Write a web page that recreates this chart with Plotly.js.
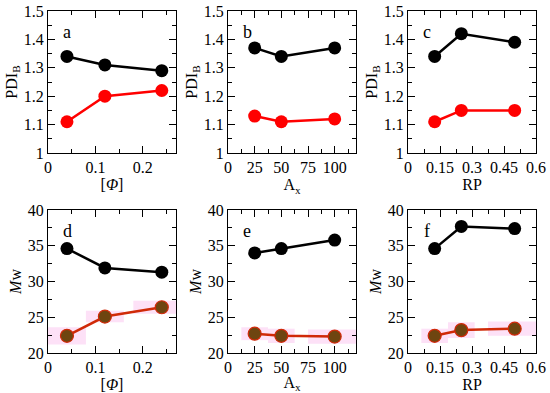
<!DOCTYPE html>
<html>
<head>
<meta charset="utf-8">
<script src="https://cdn.plot.ly/plotly-3.0.1.min.js"></script>
<style>
html,body{margin:0;padding:0;background:#fff}
#chart{width:550px;height:393px}
</style>
</head>
<body>
<div id="chart"></div>
<script>
// ---- data ----
const phiX = [0.04, 0.12, 0.24];
const axX = [25, 50, 100];
const rpX = [0.125, 0.25, 0.5];

const pdiPhiBlack = [1.34, 1.31, 1.29];
const pdiPhiRed = [1.11, 1.20, 1.22];
const pdiAxBlack = [1.37, 1.34, 1.37];
const pdiAxRed = [1.13, 1.11, 1.12];
const pdiRpBlack = [1.34, 1.42, 1.39];
const pdiRpRed = [1.11, 1.15, 1.15];

const mwPhiBlack = [34.6, 31.9, 31.3];
const mwPhiBrown = [22.4, 25.1, 26.4];
const mwAxBlack = [34.0, 34.6, 35.8];
const mwAxBrown = [22.7, 22.4, 22.3];
const mwRpBlack = [34.6, 37.7, 37.4];
const mwRpBrown = [22.4, 23.2, 23.4];

const mwPhiSpread = [1.2, 0.8, 0.9];
const mwAxSpread = [0.9, 1.0, 1.0];
const mwRpSpread = [1.0, 1.1, 1.0];

const panelLetters = ['a', 'b', 'c', 'd', 'e', 'f'];

// ---- styling ----
const FONT = 'Liberation Serif';
const BLACK = '#000000';
const RED = '#ff0000';
const DARKRED = '#d02a08';
const BROWN = '#6e4510';
const PINK = 'rgba(245,120,220,0.22)';

function lineTrace(x, y, color, ax, ay, fill, edge) {
  return {
    x: x, y: y, xaxis: ax, yaxis: ay, type: 'scatter', mode: 'lines+markers',
    line: {color: color, width: 2.5},
    marker: {size: 13, color: fill || color, line: {color: edge || color, width: edge ? 1.2 : 0}},
    hoverinfo: 'skip', showlegend: false, cliponaxis: false
  };
}

function bandTraces(x, y, spread, ax, ay) {
  const out = [];
  for (let i = 0; i < x.length; i++) {
    const gaps = [];
    if (i > 0) gaps.push(x[i] - x[i - 1]);
    if (i < x.length - 1) gaps.push(x[i + 1] - x[i]);
    const w = Math.min.apply(null, gaps) / 2;
    const x0 = x[i] - w, x1 = x[i] + w;
    const y0 = y[i] - spread[i], y1 = y[i] + spread[i];
    out.push({
      x: [x0, x1, x1, x0, x0], y: [y0, y0, y1, y1, y0], xaxis: ax, yaxis: ay,
      type: 'scatter', mode: 'lines', fill: 'toself', fillcolor: PINK,
      line: {width: 0, color: 'rgba(0,0,0,0)'}, hoverinfo: 'skip', showlegend: false
    });
  }
  return out;
}

const traces = [];
traces.push(lineTrace(phiX, pdiPhiBlack, BLACK, 'x', 'y'));
traces.push(lineTrace(phiX, pdiPhiRed, RED, 'x', 'y'));
traces.push(lineTrace(axX, pdiAxBlack, BLACK, 'x2', 'y2'));
traces.push(lineTrace(axX, pdiAxRed, RED, 'x2', 'y2'));
traces.push(lineTrace(rpX, pdiRpBlack, BLACK, 'x3', 'y3'));
traces.push(lineTrace(rpX, pdiRpRed, RED, 'x3', 'y3'));

traces.push.apply(traces, bandTraces(phiX, mwPhiBrown, mwPhiSpread, 'x4', 'y4'));
traces.push.apply(traces, bandTraces(axX, mwAxBrown, mwAxSpread, 'x5', 'y5'));
traces.push.apply(traces, bandTraces(rpX, mwRpBrown, mwRpSpread, 'x6', 'y6'));

traces.push(lineTrace(phiX, mwPhiBlack, BLACK, 'x4', 'y4'));
traces.push(lineTrace(phiX, mwPhiBrown, DARKRED, 'x4', 'y4', BROWN, DARKRED));
traces.push(lineTrace(axX, mwAxBlack, BLACK, 'x5', 'y5'));
traces.push(lineTrace(axX, mwAxBrown, DARKRED, 'x5', 'y5', BROWN, DARKRED));
traces.push(lineTrace(rpX, mwRpBlack, BLACK, 'x6', 'y6'));
traces.push(lineTrace(rpX, mwRpBrown, DARKRED, 'x6', 'y6', BROWN, DARKRED));

const W = 550, H = 393;
const colPx = [[48, 176], [228, 356], [408, 536]];
const rowPx = [[11, 153], [210, 353]];

function xAxis(col, range, dtick, minorDtick, title, anchor, tickvals, ticktext) {
  const a = {
    domain: [colPx[col][0] / W, colPx[col][1] / W], range: range, anchor: anchor,
    showgrid: false, zeroline: false, showline: true, linecolor: BLACK, linewidth: 1, mirror: 'ticks',
    ticks: 'inside', ticklen: 7, tickwidth: 1, tickcolor: BLACK,
    tickfont: {family: FONT, size: 16, color: BLACK},
    minor: {dtick: minorDtick, ticks: 'inside', ticklen: 4, tickwidth: 1, tickcolor: BLACK, showgrid: false},
    title: {text: title, font: {family: FONT, size: 16, color: BLACK}, standoff: 2},
    fixedrange: true
  };
  if (tickvals) { a.tickmode = 'array'; a.tickvals = tickvals; a.ticktext = ticktext; }
  else { a.tick0 = 0; a.dtick = dtick; }
  return a;
}
function yAxis(row, range, dtick, minorDtick, title, anchor, tickvals, ticktext) {
  const a = {
    domain: [1 - rowPx[row][1] / H, 1 - rowPx[row][0] / H], range: range, anchor: anchor,
    showgrid: false, zeroline: false, showline: true, linecolor: BLACK, linewidth: 1, mirror: 'ticks',
    ticks: 'inside', ticklen: 7, tickwidth: 1, tickcolor: BLACK,
    tickfont: {family: FONT, size: 16, color: BLACK},
    minor: {dtick: minorDtick, ticks: 'inside', ticklen: 4, tickwidth: 1, tickcolor: BLACK, showgrid: false},
    title: {text: title, font: {family: FONT, size: 16, color: BLACK}, standoff: 2},
    fixedrange: true
  };
  if (tickvals) { a.tickmode = 'array'; a.tickvals = tickvals; a.ticktext = ticktext; }
  else { a.tick0 = 0; a.dtick = dtick; }
  return a;
}

const pdiTickVals = [1, 1.1, 1.2, 1.3, 1.4, 1.5];
const pdiTickText = ['1', '1.1', '1.2', '1.3', '1.4', '1.5'];
const phiTickVals = [0, 0.1, 0.2];
const phiTickText = ['0', '0.1', '0.2'];
const rpTickVals = [0, 0.15, 0.3, 0.45, 0.6];
const rpTickText = ['0', '0.15', '0.3', '0.45', '0.6'];

const phiTitle = '[<i>Φ</i>]';
const axTitle = 'A<sub>x</sub>';
const rpTitle = 'RP';
const pdiTitle = 'PDI<sub>B</sub>';
const mwTitle = '<i>M</i>w';

const layout = {
  width: W, height: H, margin: {l: 0, r: 0, t: 0, b: 0},
  paper_bgcolor: '#ffffff', plot_bgcolor: '#ffffff', showlegend: false,
  font: {family: FONT, color: BLACK},
  xaxis: xAxis(0, [0, 0.27], null, 0.05, phiTitle, 'y', phiTickVals, phiTickText),
  yaxis: yAxis(0, [1, 1.5], null, 0.05, pdiTitle, 'x', pdiTickVals, pdiTickText),
  xaxis2: xAxis(1, [0, 120], 25, 12.5, axTitle, 'y2'),
  yaxis2: yAxis(0, [1, 1.5], null, 0.05, pdiTitle, 'x2', pdiTickVals, pdiTickText),
  xaxis3: xAxis(2, [0, 0.6], null, 0.075, rpTitle, 'y3', rpTickVals, rpTickText),
  yaxis3: yAxis(0, [1, 1.5], null, 0.05, pdiTitle, 'x3', pdiTickVals, pdiTickText),
  xaxis4: xAxis(0, [0, 0.27], null, 0.05, phiTitle, 'y4', phiTickVals, phiTickText),
  yaxis4: yAxis(1, [20, 40], 5, 2.5, mwTitle, 'x4'),
  xaxis5: xAxis(1, [0, 120], 25, 12.5, axTitle, 'y5'),
  yaxis5: yAxis(1, [20, 40], 5, 2.5, mwTitle, 'x5'),
  xaxis6: xAxis(2, [0, 0.6], null, 0.075, rpTitle, 'y6', rpTickVals, rpTickText),
  yaxis6: yAxis(1, [20, 40], 5, 2.5, mwTitle, 'x6'),
  annotations: panelLetters.map(function (t, i) {
    const sfx = i === 0 ? '' : String(i + 1);
    return {
      text: t, xref: 'x' + sfx + ' domain', yref: 'y' + sfx + ' domain',
      x: 0.15, y: 0.85, xanchor: 'center', yanchor: 'middle', showarrow: false,
      font: {family: FONT, size: 18, color: BLACK}
    };
  })
};

Plotly.newPlot('chart', traces, layout, {staticPlot: true, displayModeBar: false});
</script>
</body>
</html>
